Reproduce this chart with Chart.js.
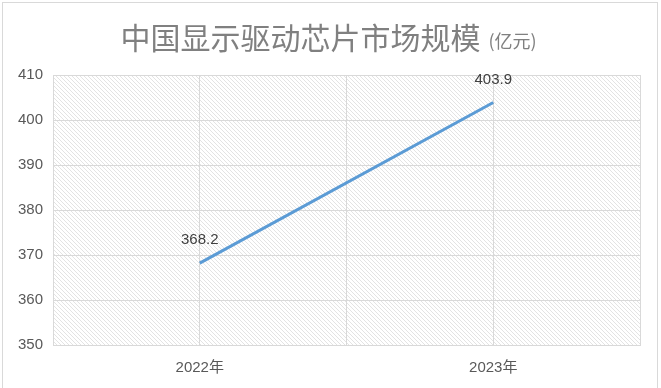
<!DOCTYPE html>
<html>
<head>
<meta charset="utf-8">
<script src="https://cdn.jsdelivr.net/npm/chart.js@4"></script>
<style>
  html, body { margin: 0; padding: 0; background: #fff; }
  #wrap { position: relative; width: 661px; height: 388px; }
  #frame { position: absolute; left: 2px; top: 2px; width: 656px; height: 400px;
           border: 1px solid #d9d9d9; box-sizing: border-box; pointer-events: none; }
</style>
</head>
<body>
<div id="wrap">
  <canvas id="chart" width="661" height="388"></canvas>
  <div id="frame"></div>
</div>
<script>
var categories = ['2022年', '2023年'];
var marketSize = [368.2, 403.9];
var titleMain = '中国显示驱动芯片市场规模';
var titleUnit = '(亿元)';
var yMin = 350, yMax = 410, yStep = 10;

var fontFamily = '"Liberation Sans", "Noto Sans CJK SC", Arial, sans-serif';
var cjkFont = '"Noto Sans CJK SC", sans-serif';

// diagonal hatch for the plot area
function makeHatch(ctx) {
  var c = document.createElement('canvas');
  c.width = 4; c.height = 4;
  var g = c.getContext('2d');
  g.fillStyle = '#ffffff';
  g.fillRect(0, 0, 4, 4);
  g.strokeStyle = '#e0e0e0';
  g.lineWidth = 0.9;
  g.beginPath();
  g.moveTo(-1, -1); g.lineTo(5, 5);
  g.moveTo(-1, 3); g.lineTo(1, 5);
  g.moveTo(3, -1); g.lineTo(5, 1);
  g.stroke();
  return ctx.createPattern(c, 'repeat');
}

var backgroundPlugin = {
  id: 'hatchBg',
  beforeDraw: function(chart) {
    var a = chart.chartArea, ctx = chart.ctx;
    ctx.save();
    ctx.fillStyle = makeHatch(ctx);
    ctx.fillRect(a.left, a.top, a.right - a.left, a.bottom - a.top);
    ctx.restore();
  }
};

var titlePlugin = {
  id: 'mixedTitle',
  afterDraw: function(chart) {
    var ctx = chart.ctx;
    ctx.save();
    ctx.fillStyle = '#808080';
    ctx.textBaseline = 'middle';
    ctx.textAlign = 'left';
    ctx.font = '30px ' + cjkFont;
    var w1 = ctx.measureText(titleMain).width;
    ctx.font = '18px ' + cjkFont;
    var w2 = ctx.measureText(titleUnit).width;
    var x = (chart.width - (w1 + 8 + w2)) / 2 - 2;
    ctx.font = '30px ' + cjkFont;
    ctx.fillText(titleMain, x, 38);
    ctx.font = '18px ' + cjkFont;
    ctx.fillText(titleUnit, x + w1 + 8, 41);
    ctx.restore();
  }
};

var valueLabels = {
  id: 'valueLabels',
  afterDatasetsDraw: function(chart) {
    var ctx = chart.ctx;
    var meta = chart.getDatasetMeta(0);
    ctx.save();
    ctx.fillStyle = '#404040';
    ctx.font = '15px ' + fontFamily;
    ctx.textAlign = 'center';
    ctx.textBaseline = 'middle';
    meta.data.forEach(function(pt, i) {
      ctx.fillText(marketSize[i].toFixed(1), pt.x, pt.y - 23);
    });
    ctx.restore();
  }
};

var ctx = document.getElementById('chart');
var chart = new Chart(ctx, {
  type: 'line',
  data: {
    labels: categories,
    datasets: [{
      data: marketSize,
      borderColor: '#5b9bd5',
      borderWidth: 3,
      pointRadius: 0,
      fill: false,
      tension: 0
    }]
  },
  options: {
    responsive: false,
    animation: false,
    layout: { padding: { top: 75, right: 21, left: 0, bottom: 0 } },
    plugins: { legend: { display: false }, tooltip: { enabled: false } },
    scales: {
      x: {
        offset: true,
        grid: { color: '#d9d9d9', offset: true, drawTicks: false },
        border: { color: '#d9d9d9' },
        ticks: { color: '#595959', font: { size: 15, family: fontFamily }, padding: 14 },
        afterFit: function(s) { s.height = 43; }
      },
      x2: {
        type: 'category',
        labels: categories,
        position: 'top',
        offset: true,
        grid: { color: '#d9d9d9', offset: false, drawTicks: false },
        border: { display: false },
        ticks: { display: false },
        afterFit: function(s) { s.height = 0; }
      },
      y: {
        min: yMin,
        max: yMax,
        ticks: { stepSize: yStep, color: '#595959', font: { size: 15, family: fontFamily }, padding: 10 },
        grid: { color: '#d9d9d9', drawTicks: false },
        border: { display: false },
        afterFit: function(s) { s.width = 53; }
      }
    }
  },
  plugins: [backgroundPlugin, titlePlugin, valueLabels]
});
</script>
</body>
</html>
